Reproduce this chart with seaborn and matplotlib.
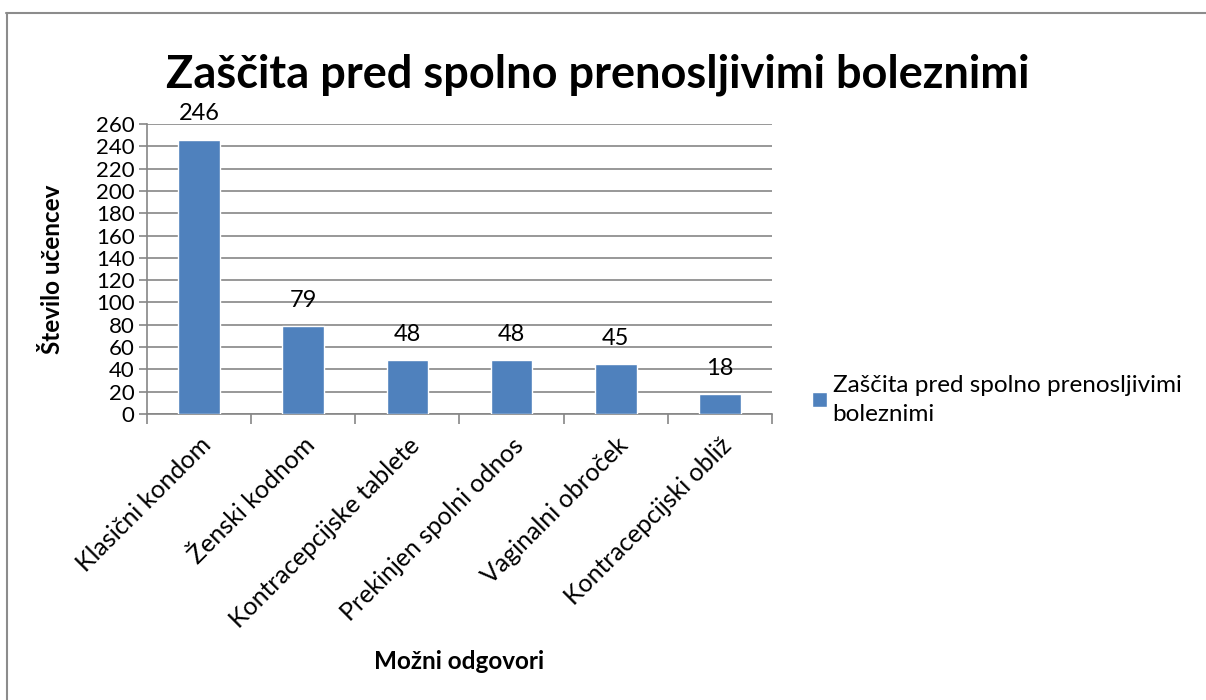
import matplotlib
matplotlib.use("Agg")
import matplotlib.pyplot as plt
import seaborn as sns
import pandas as pd
from matplotlib.lines import Line2D

categories = ["Klasični kondom", "Ženski kodnom", "Kontracepcijske tablete",
              "Prekinjen spolni odnos", "Vaginalni obroček", "Kontracepcijski obliž"]
values = [246, 79, 48, 48, 45, 18]
series_name = "Zaščita pred spolno prenosljivimi boleznimi"
title = "Zaščita pred spolno prenosljivimi boleznimi"
y_label = "Število učencev"
x_label = "Možni odgovori"
y_ticks = list(range(0, 261, 20))

sns.set_theme(style="white")
plt.rcParams['font.family'] = ['Lato', 'DejaVu Sans']
plt.rcParams['text.color'] = 'black'
plt.rcParams['axes.labelcolor'] = 'black'
plt.rcParams['xtick.color'] = 'black'
plt.rcParams['ytick.color'] = 'black'

bar_color = "#4F81BD"
grid_color = "#868686"

fig = plt.figure(figsize=(12.06, 7.0), dpi=100)
ax = fig.add_axes([147/1206, 1-414/700, (772-147)/1206, (414-124)/700])

df = pd.DataFrame({"cat": categories, "val": values})
sns.barplot(data=df, x="cat", y="val", color=bar_color, width=0.4,
            saturation=1, ax=ax, zorder=3)

ax.set_ylim(0, 260)
ax.set_xlim(-0.5, len(categories) - 0.5)
ax.set_yticks(y_ticks)
ax.set_yticklabels([str(t) for t in y_ticks], fontsize=16)
ax.yaxis.grid(True, color=grid_color, linewidth=1.2, zorder=0)
ax.set_axisbelow(True)

for s in ["top", "right"]:
    ax.spines[s].set_visible(False)
for s in ["left", "bottom"]:
    ax.spines[s].set_color(grid_color)
    ax.spines[s].set_linewidth(1.2)

ax.tick_params(axis="y", which="major", direction="out", length=6, width=1.2,
               color=grid_color, labelcolor="black", pad=3, left=True)
# x: category boundary ticks
ax.set_xticks([i - 0.5 for i in range(len(categories) + 1)], minor=True)
ax.tick_params(axis="x", which="minor", direction="out", length=7, width=1.2,
               color=grid_color, bottom=True)
ax.tick_params(axis="x", which="major", length=0, pad=14, labelcolor="black")
ax.set_xticks(range(len(categories)))
ax.set_xticklabels(categories, rotation=45, ha="right", rotation_mode="anchor",
                   fontsize=18)

ax.set_xlabel(x_label, fontsize=17.5, fontweight="bold")
ax.xaxis.set_label_coords(0.5, (414 - 650) / 290)
ax.set_ylabel(y_label, fontsize=17.5, fontweight="bold")
ax.yaxis.set_label_coords((64 - 147) / 625, 0.5)

ax.bar_label(ax.containers[0], labels=[str(v) for v in values], padding=11,
             fontsize=17, color="black")

fig.suptitle(title, x=598/1206, y=1-75/700, va="center", fontsize=32.5,
             fontweight="bold", color="black")

leg = fig.legend([ax.containers[0].patches[0]],
                 ["Zaščita pred spolno prenosljivimi\nboleznimi"],
                 loc="upper left", bbox_to_anchor=(812/1206, 1-375/700),
                 frameon=False, fontsize=17.5, handlelength=0.6, handleheight=0.6,
                 handletextpad=0.25, borderaxespad=0, borderpad=0,
                 labelspacing=0.2)
for t in leg.get_texts():
    t.set_linespacing(1.45)

# chart border (top and left visible)
fig.add_artist(Line2D([6/1206, 1.0], [1-12.5/700, 1-12.5/700], transform=fig.transFigure,
                      color="#8c8c8c", linewidth=1.5))
fig.add_artist(Line2D([6.5/1206, 6.5/1206], [0, 1-12.5/700], transform=fig.transFigure,
                      color="#8c8c8c", linewidth=1.5))

fig.savefig("out.png", dpi=100)
